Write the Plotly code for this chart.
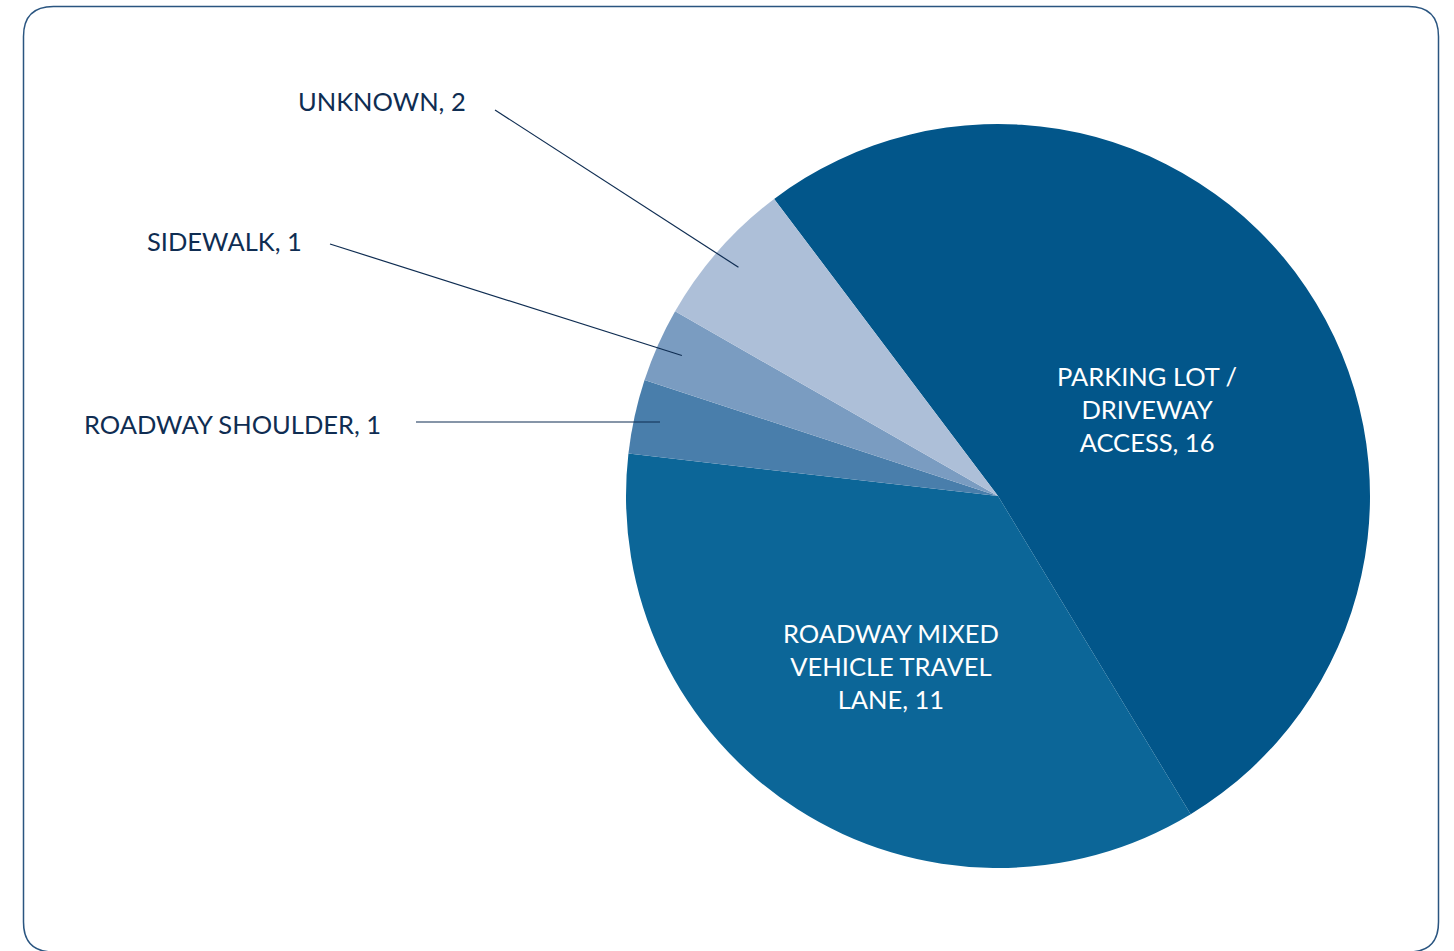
import math
import plotly.graph_objects as go

W, H = 1454, 951

# Crash location categories and counts
categories = ["PARKING LOT / DRIVEWAY ACCESS", "ROADWAY MIXED VEHICLE TRAVEL LANE",
              "ROADWAY SHOULDER", "SIDEWALK", "UNKNOWN"]
counts = [16, 11, 1, 1, 2]
# multi-line versions for the in-slice labels
inside_lines = {0: ["PARKING LOT /", "DRIVEWAY", "ACCESS"],
                1: ["ROADWAY MIXED", "VEHICLE TRAVEL", "LANE"]}
colors = ["#02568A", "#0C6698", "#497EAB", "#7A9CC1", "#ADBFD8"]

NAVY = "#0F2D52"
FONT = "Lato"
FSIZE = 25.5

# pie geometry in pixels
CX, CY, R = 998, 496, 372
ROTATION = -37


def px(x, y):
    return x / W, 1 - y / H


fig = go.Figure(go.Pie(
    labels=categories,
    values=counts,
    sort=False,
    direction="clockwise",
    rotation=ROTATION,
    marker=dict(colors=colors, line=dict(width=0)),
    textinfo="none",
    hoverinfo="label+value",
    showlegend=False,
    domain=dict(x=[(CX - R) / W, (CX + R) / W], y=[1 - (CY + R) / H, 1 - (CY - R) / H]),
))

annotations = []
shapes = []

# in-slice labels
inside_pos = {0: (1147, 409), 1: (891, 666)}
for i, (x, y) in inside_pos.items():
    ax, ay = px(x, y)
    lines = inside_lines[i][:-1] + [f"{inside_lines[i][-1]}, {counts[i]}"]
    annotations.append(dict(
        x=ax, y=ay, xref="paper", yref="paper", showarrow=False,
        text="<br>".join(lines),
        font=dict(family=FONT, size=FSIZE, color="white"), align="center",
        xanchor="center", yanchor="middle"))

# outside labels with leader lines to slice mid-angles
total = sum(counts)
starts = []
acc = 0
for v in counts:
    starts.append(acc)
    acc += v
outside = {4: (468, 101, 495, 110), 3: (304, 241, 330, 244), 2: (383, 424, 416, 424)}
for i, (lx, ly, sx, sy) in outside.items():
    mid = ROTATION + (starts[i] + counts[i] / 2) / total * 360
    ex = CX + 0.93 * R * math.sin(math.radians(mid))
    ey = CY - 0.93 * R * math.cos(math.radians(mid))
    if i == 2:
        sy = ey
    x0, y0 = px(sx, sy)
    x1, y1 = px(ex, ey)
    shapes.append(dict(type="line", xref="paper", yref="paper", x0=x0, y0=y0, x1=x1, y1=y1,
                       line=dict(color=NAVY, width=1.2)))
    ax, ay = px(lx, ly)
    annotations.append(dict(
        x=ax, y=ay, xref="paper", yref="paper", showarrow=False,
        text=f"{categories[i]}, {counts[i]}",
        font=dict(family=FONT, size=FSIZE, color=NAVY),
        xanchor="right", yanchor="middle"))

# rounded frame
L, T, Rt, B, rr = 23.5, 6.5, 1438.5, 952, 30
path = (f"M {L+rr},{T} L {Rt-rr},{T} Q {Rt},{T} {Rt},{T+rr} L {Rt},{B-rr} Q {Rt},{B} {Rt-rr},{B} "
        f"L {L+rr},{B} Q {L},{B} {L},{B-rr} L {L},{T+rr} Q {L},{T} {L+rr},{T} Z")
shapes.append(dict(type="path", xref="x", yref="y", path=path,
                   line=dict(color="#2A5580", width=1.5), layer="below"))

fig.update_layout(
    width=W, height=H,
    margin=dict(l=0, r=0, t=0, b=0),
    paper_bgcolor="white", plot_bgcolor="white",
    xaxis=dict(range=[0, W], visible=False, fixedrange=True),
    yaxis=dict(range=[H, 0], visible=False, fixedrange=True),
    annotations=annotations,
    shapes=shapes,
)

fig.write_html("out.html")
